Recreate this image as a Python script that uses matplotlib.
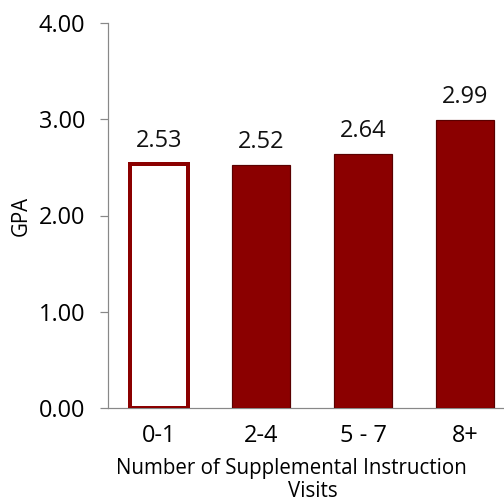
import matplotlib
matplotlib.use("Agg")
import matplotlib.pyplot as plt

categories = ["0-1", "2-4", "5 - 7", "8+"]
gpa = [2.53, 2.52, 2.64, 2.99]
yticks = [0, 1, 2, 3, 4]
xlabel_line1 = "Number of Supplemental Instruction"
xlabel_line2 = "Visits"

plt.rcParams['font.family'] = ['Open Sans', 'DejaVu Sans']
dark = "#8B0000"
FSN = 23.5   # numbers
FST = 20.5   # words

fig = plt.figure(figsize=(7, 7), dpi=72)
ax = fig.add_axes([108/504, 96/504, 408/504, 385/504])

x = list(range(len(categories)))
for i, v in enumerate(gpa):
    if i == 0:
        ax.bar(i, v, width=0.56, facecolor="white", edgecolor=dark, linewidth=4, zorder=3)
    else:
        ax.bar(i, v, width=0.56, facecolor=dark, edgecolor="#5a0000", linewidth=1.2, zorder=3)
    ax.annotate(f"{v:.2f}", (i, v), xytext=(0, 17), textcoords="offset points",
                ha="center", va="baseline", fontsize=FSN, color="#111111")

ax.set_xlim(-0.5, len(categories) - 0.5)
ax.set_ylim(0, 4)
ax.set_yticks(yticks)
ax.set_yticklabels([f"{t:.2f}" for t in yticks], fontsize=FSN)
ax.set_xticks(x)
ax.set_xticklabels(categories, fontsize=FSN)
ax.tick_params(axis='x', length=0, pad=16)
ax.tick_params(axis='y', length=8, color="#888888", width=1.2, pad=15)
for s in ["top", "right"]:
    ax.spines[s].set_visible(False)
for s in ["left", "bottom"]:
    ax.spines[s].set_color("#888888")
    ax.spines[s].set_linewidth(1.2)

ax.set_ylabel("GPA", fontsize=FST)
ax.yaxis.set_label_coords((32 - 108) / 408, 0.5)

ax.set_xlabel(xlabel_line1, fontsize=FST)
ax.xaxis.set_label_coords((291 - 108) / 408, -(458 - 408) / 385)
ax.text((313 - 108) / 408, -(481 - 408) / 385, xlabel_line2, transform=ax.transAxes,
        ha="center", va="top", fontsize=FST)

fig.savefig("out.png", dpi=72)
